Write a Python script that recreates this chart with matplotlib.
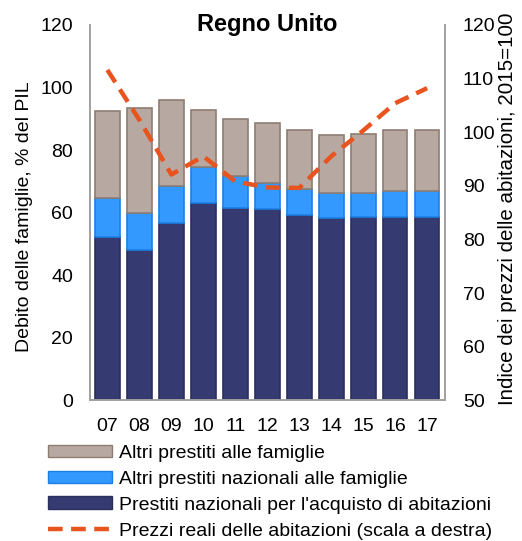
import numpy as np
import matplotlib
matplotlib.use("Agg")
from matplotlib import pyplot as plt
from matplotlib.patches import Patch
from matplotlib.lines import Line2D

plt.rcParams['font.family'] = ['Liberation Sans', 'DejaVu Sans']

anni = ["07", "08", "09", "10", "11", "12", "13", "14", "15", "16", "17"]
mutui = [52.2, 48.0, 56.8, 63.2, 61.6, 61.0, 59.2, 58.2, 58.7, 58.7, 58.7]
altri_naz = [12.4, 11.8, 11.8, 11.4, 10.1, 8.6, 8.3, 8.0, 7.5, 8.2, 8.2]
altri = [27.8, 33.7, 27.3, 18.3, 18.2, 19.2, 18.9, 18.5, 19.0, 19.5, 19.5]
prezzi = [111.6, 102.3, 92.1, 95.5, 90.8, 89.7, 89.6, 95.5, 100.3, 105.4, 108.2]

x = np.arange(len(anni))
w = 0.77
tratteggio = (0, (3.3, 1.9))

fig = plt.figure(figsize=(5.22, 5.41), dpi=100)
ax = fig.add_axes([0.172, 0.26, 0.68, 0.694])

ax.bar(x, mutui, w, color="#353A70", edgecolor="#2B2F5E", linewidth=1.2)
ax.bar(x, altri_naz, w, bottom=mutui, color="#3399FF", edgecolor="#1A80E6", linewidth=1.2)
base = np.array(mutui) + np.array(altri_naz)
ax.bar(x, altri, w, bottom=base, color="#B7A9A1", edgecolor="#8E7D72", linewidth=1.2)

ax.set_xlim(-0.55, 10.55)
ax.set_ylim(0, 120)
ax.set_yticks(range(0, 121, 20))
ax.set_xticks(x)
ax.set_xticklabels(anni)
ax.tick_params(length=0, labelsize=14, pad=13)
ax.tick_params(axis='y', pad=12)
ax.spines["top"].set_visible(False)
for s in ["left", "right", "bottom"]:
    ax.spines[s].set_color("#A0A0A0")
    ax.spines[s].set_linewidth(1.2)
ax.set_ylabel("Debito delle famiglie, % del PIL", fontsize=14)
ax.yaxis.set_label_coords(-0.16, 0.49)
ax.text(0.5, 1.0, "Regno Unito", transform=ax.transAxes, ha="center", va="center",
        fontsize=17, fontweight="bold")

ax2 = ax.twinx()
ax2.plot(x, prezzi, color="#E8531E", linewidth=3.2, linestyle=tratteggio)
ax2.set_ylim(50, 120)
ax2.set_yticks(range(50, 121, 10))
ax2.tick_params(length=0, labelsize=14, pad=13)
ax2.spines["top"].set_visible(False)
for s in ["left", "right", "bottom"]:
    ax2.spines[s].set_color("#A0A0A0")
    ax2.spines[s].set_linewidth(1.2)
ax2.set_ylabel("Indice dei prezzi delle abitazioni, 2015=100", fontsize=14.8)
ax2.yaxis.set_label_coords(1.15, 0.51)

handles = [
    Patch(facecolor="#B7A9A1", edgecolor="#8E7D72"),
    Patch(facecolor="#3399FF", edgecolor="#1A80E6"),
    Patch(facecolor="#353A70", edgecolor="#2B2F5E"),
    Line2D([], [], color="#E8531E", linewidth=3.2, linestyle=tratteggio),
]
labels = [
    "Altri prestiti alle famiglie",
    "Altri prestiti nazionali alle famiglie",
    "Prestiti nazionali per l'acquisto di abitazioni",
    "Prezzi reali delle abitazioni (scala a destra)",
]
fig.legend(handles, labels, loc="upper left", bbox_to_anchor=(0.092, 0.178),
           frameon=False, fontsize=14, handlelength=3.3, handleheight=0.62,
           handletextpad=0.36, labelspacing=0.45, borderaxespad=0, borderpad=0)

fig.savefig("out.png", dpi=100)
